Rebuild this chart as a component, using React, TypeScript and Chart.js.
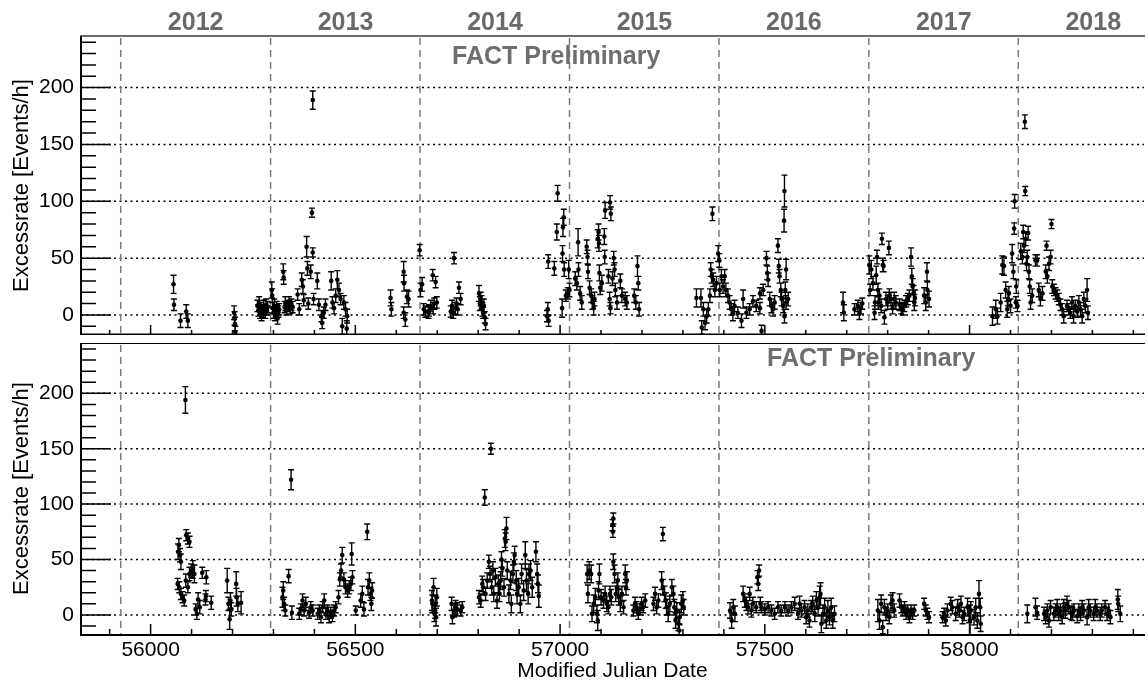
import React, { useEffect, useRef } from 'react';
import { Chart, registerables } from 'chart.js';

Chart.register(...registerables);

// ---------- axis / label data ----------
const X_MIN = 55830;
const X_MAX = 58426;
const Y_MAX = 245.4;
const Y_MIN_TOP = -17.6;
const Y_MIN_BOTTOM = -17.2;

const yearLabels = ['2012', '2013', '2014', '2015', '2016', '2017', '2018'];
const yearStartMjd = [55927, 56293, 56658, 57023, 57388, 57754, 58119];
const yearMidMjd = [56110, 56476, 56841, 57206, 57571, 57937, 58302];
const xTickValues = [56000, 56500, 57000, 57500, 58000];
const yTickValues = [0, 50, 100, 150, 200];

const yTitle = 'Excessrate [Events/h]';
const xTitle = 'Modified Julian Date';
const watermark = 'FACT Preliminary';

// ---------- series: [MJD, excess rate, error] ----------
type P = [number, number, number];

const topPanelPoints: P[] = [
  [56056, 27, 8], [56057, 9, 5], [56073, -5, 6], [56087, 3, 6], [56091, -5, 6],
  [56204, 2, 6], [56205, -3, 6], [56206, -8, 6], [56207, -15, 5],
  [56261, 8, 5], [56263, 4, 5], [56265, 10, 6], [56267, 2, 5], [56269, 6, 5], [56271, -1, 4], [56274, 3, 5],
  [56276, 8, 5], [56278, 5, 4], [56280, 1, 4], [56282, 9, 5], [56284, 4, 4], [56286, 7, 5],
  [56296, 22, 7], [56297, 17, 6], [56298, 6, 5], [56300, 2, 5], [56302, 8, 6], [56304, 0, 5], [56306, 4, 5],
  [56308, 7, 5], [56310, -3, 5], [56312, 3, 5], [56314, 5, 5],
  [56324, 38, 7], [56325, 33, 6], [56327, 7, 5], [56329, 10, 6], [56332, 5, 5], [56335, 8, 5], [56338, 11, 5],
  [56341, 6, 5], [56344, 9, 5], [56347, 7, 5],
  [56359, 18, 5], [56363, 5, 5], [56369, 31, 6], [56372, 25, 6], [56374, 13, 5], [56381, 60, 9], [56383, 41, 6],
  [56385, 10, 5], [56391, 38, 6], [56394, 90, 4], [56396, 189, 8], [56396, 55, 4], [56398, 14, 5], [56407, 30, 7],
  [56411, 9, 5], [56417, -1, 5], [56419, -7, 5], [56423, 2, 5], [56427, 9, 5], [56441, 30, 8], [56444, 11, 5],
  [56448, 6, 5], [56452, 17, 6], [56456, 31, 8], [56460, 22, 6], [56464, 14, 5], [56468, -10, 7], [56472, 11, 6],
  [56476, 5, 6], [56479, -12, 7], [56480, -1, 6],
  [56586, 15, 7], [56588, 5, 6], [56618, 38, 9], [56619, 28, 7], [56618, 2, 5], [56622, -4, 6], [56626, 16, 6],
  [56630, 14, 7], [56657, 57, 5], [56659, 22, 6], [56663, 27, 6], [56667, 5, 5], [56671, 3, 5], [56679, 2, 5],
  [56680, 4, 5], [56684, 8, 5], [56689, 35, 5], [56690, 6, 5], [56693, 10, 5], [56696, 29, 5], [56699, 11, 5],
  [56733, 3, 5], [56736, 8, 5], [56739, 1, 4], [56741, 50, 5], [56744, 6, 5], [56747, 10, 5], [56750, 5, 5],
  [56753, 24, 5], [56757, 14, 5],
  [56802, 19, 7], [56804, 10, 6], [56806, 14, 6], [56808, 11, 6], [56810, 5, 6], [56812, 2, 5], [56814, 8, 6],
  [56816, -2, 5], [56818, -8, 5],
  [56968, -1, 5], [56970, 5, 6], [56972, -5, 5], [56971, 47, 6], [56986, 41, 6], [56992, 73, 7], [56994, 107, 7],
  [57005, 6, 8], [57006, 54, 7], [57007, 77, 8], [57009, 86, 7], [57010, 40, 6], [57014, 17, 5], [57019, 19, 5],
  [57021, 40, 8], [57023, 22, 6],
  [57037, 32, 6], [57041, 28, 6], [57044, 64, 12], [57045, 40, 6], [57049, 19, 6], [57053, 11, 6],
  [57065, 60, 6], [57067, 51, 6], [57068, 38, 6], [57072, 24, 6], [57076, 17, 6], [57079, 11, 6], [57082, 6, 6],
  [57084, 14, 6], [57092, 67, 8], [57094, 73, 7], [57095, 63, 7], [57096, 37, 7], [57098, 24, 6], [57102, 28, 7],
  [57108, 69, 7], [57109, 51, 6], [57110, 92, 7], [57122, 99, 6], [57124, 89, 6], [57118, 34, 6], [57121, 14, 6],
  [57123, 6, 5], [57128, 32, 6], [57131, 50, 6], [57133, 40, 6], [57135, 22, 6], [57139, 11, 6],
  [57147, 30, 6], [57151, 17, 6], [57159, 14, 6], [57163, 11, 6],
  [57181, 17, 6], [57185, 11, 6], [57189, 43, 9], [57191, 28, 6], [57193, 5, 6],
  [57333, 15, 8], [57344, 15, 8], [57346, -11, 6], [57350, 5, 6], [57354, -7, 6], [57358, -1, 6], [57362, 5, 6],
  [57366, 17, 6], [57368, 40, 6], [57370, 34, 6], [57372, 89, 6], [57374, 31, 6], [57378, 22, 6], [57382, 28, 6],
  [57386, 54, 7], [57389, 48, 6], [57390, 22, 6], [57394, 34, 6], [57398, 25, 6], [57402, 34, 6], [57405, 22, 6],
  [57410, 17, 6], [57414, 11, 6],
  [57418, 5, 5], [57422, 1, 6], [57426, 8, 5], [57434, 2, 5], [57443, -5, 6], [57447, 14, 8], [57455, 2, 5],
  [57463, 5, 5], [57471, 12, 5], [57479, 8, 5], [57488, 6, 5], [57492, -14, 5],
  [57488, 19, 5], [57496, 22, 5], [57504, 50, 6], [57506, 37, 6], [57508, 31, 6], [57512, 14, 6], [57516, 8, 6],
  [57520, 5, 6], [57524, 11, 6],
  [57532, 61, 6], [57534, 43, 6], [57536, 34, 6], [57539, 22, 6], [57541, 14, 6], [57545, 8, 6], [57547, 83, 10],
  [57548, 109, 14], [57550, 22, 7], [57552, 40, 9], [57552, 11, 6], [57548, -1, 6], [57557, 14, 6],
  [57691, 11, 9], [57693, 2, 7],
  [57719, 5, 5], [57727, 8, 5], [57731, 1, 5], [57735, 6, 5], [57738, 10, 5],
  [57755, 44, 8], [57757, 22, 5], [57760, 40, 8], [57764, 28, 6], [57768, 2, 6], [57769, 11, 6], [57772, 35, 8],
  [57774, 51, 6], [57776, 22, 6], [57777, 11, 6], [57780, 17, 6], [57784, 8, 6], [57786, 67, 5], [57788, 44, 6],
  [57790, 43, 5], [57792, -2, 6], [57796, 14, 6], [57800, 11, 6], [57803, 59, 6], [57804, 17, 6], [57808, 14, 6],
  [57812, 6, 5], [57816, 14, 6], [57820, 11, 6],
  [57829, 9, 5], [57833, 6, 5], [57837, 5, 5], [57841, 8, 5], [57845, 12, 5], [57849, 14, 5], [57853, 17, 5],
  [57857, 51, 8], [57859, 34, 7], [57861, 25, 7], [57863, 19, 7], [57865, 11, 7], [57867, 15, 7],
  [57889, 17, 7], [57893, 11, 7], [57896, 38, 8], [57897, 22, 7], [57901, 14, 7],
  [58056, -1, 8], [58064, 5, 8], [58068, -1, 7], [58076, 11, 8], [58080, 44, 8], [58084, 43, 8], [58088, 22, 7],
  [58092, 5, 7], [58094, 14, 6], [58096, 19, 6], [58100, 8, 6], [58104, 54, 8], [58107, 38, 6], [58109, 76, 5],
  [58110, 100, 6], [58113, 11, 5], [58114, 25, 6], [58117, 8, 5],
  [58125, 56, 7], [58129, 51, 6], [58131, 73, 6], [58133, 61, 6], [58135, 170, 6], [58136, 109, 4], [58137, 67, 6],
  [58139, 45, 6], [58141, 51, 6], [58143, 72, 6], [58145, 38, 6], [58147, 25, 6], [58149, 11, 6], [58153, 17, 6],
  [58161, 48, 5], [58165, 48, 5], [58169, 22, 6], [58173, 14, 6], [58178, 19, 6],
  [58186, 38, 6], [58188, 61, 4], [58190, 34, 6], [58194, 45, 6], [58198, 51, 6], [58200, 80, 4], [58202, 25, 6],
  [58206, 22, 5], [58210, 19, 5], [58214, 17, 5], [58218, 14, 5], [58222, 9, 5], [58226, 5, 5],
  [58230, -1, 6], [58238, 8, 5], [58242, 5, 5], [58246, 2, 5], [58250, 11, 5], [58254, -1, 6], [58258, 8, 5],
  [58263, 3, 5], [58267, 11, 6], [58271, 5, 6], [58275, -1, 6], [58279, 14, 6], [58283, 8, 6], [58287, 22, 10],
  [58289, 2, 6],
];

const bottomPanelPoints: P[] = [
  [56085, 194, 12],
  [56067, 57, 7], [56069, 63, 6], [56072, 54, 6], [56074, 48, 7], [56066, 28, 5], [56070, 25, 5], [56074, 19, 5],
  [56078, 16, 5], [56082, 13, 5], [56086, 31, 6], [56087, 72, 5], [56091, 69, 5], [56095, 66, 5], [56091, 25, 5],
  [56095, 37, 6], [56099, 40, 6], [56103, 41, 8], [56107, 37, 8],
  [56110, 5, 5], [56113, 1, 5], [56116, 14, 6], [56120, 7, 6],
  [56126, 38, 5], [56136, 34, 6], [56134, 14, 5], [56135, 17, 5], [56148, 11, 6],
  [56187, 31, 11], [56190, 10, 6], [56193, -4, 9], [56195, 13, 7], [56197, 5, 6], [56209, 28, 11], [56210, 16, 8],
  [56213, 10, 7], [56221, 11, 10],
  [56322, 16, 9], [56324, 22, 8], [56326, 10, 6], [56329, 4, 5], [56337, 35, 6], [56345, 2, 6], [56343, 122, 9],
  [56363, 1, 5], [56367, 5, 5], [56371, 13, 6], [56375, 4, 5], [56379, 10, 6], [56387, 2, 5], [56391, 7, 5],
  [56396, 4, 5],
  [56408, 1, 5], [56412, 4, 5], [56416, -2, 5], [56420, 7, 5], [56424, 13, 6], [56428, 1, 5], [56432, 4, 5],
  [56436, -2, 5], [56440, 2, 5], [56444, -1, 5], [56448, 4, 5], [56452, 7, 5],
  [56459, 16, 6], [56462, 32, 6], [56465, 40, 6], [56468, 54, 7], [56472, 32, 6], [56476, 25, 6], [56481, 22, 6],
  [56485, 25, 6], [56489, 28, 6], [56491, 55, 10], [56493, 34, 6],
  [56501, 4, 4], [56513, 13, 6], [56517, 19, 7], [56521, 5, 6], [56529, 75, 7], [56531, 25, 7], [56534, 31, 7],
  [56537, 19, 6], [56539, 10, 6], [56541, 22, 7],
  [56687, 13, 9], [56688, 10, 8], [56691, 25, 8], [56693, 1, 7], [56695, 10, 8], [56695, 4, 7], [56697, -2, 8],
  [56699, 16, 8],
  [56735, 10, 6], [56737, -2, 6], [56741, 4, 6], [56745, 7, 6], [56749, 5, 6], [56757, 4, 5], [56761, 7, 5],
  [56802, 16, 6], [56806, 13, 6], [56810, 28, 7], [56812, 25, 7], [56816, 106, 7], [56818, 19, 6], [56822, 31, 7],
  [56826, 48, 6], [56829, 37, 7], [56831, 150, 5], [56833, 25, 7], [56836, 40, 8], [56838, 19, 7], [56842, 34, 8],
  [56846, 13, 7], [56849, 28, 8], [56852, 19, 7], [56855, 31, 8], [56857, 50, 7], [56859, 42, 7], [56863, 25, 8],
  [56865, 69, 8], [56867, 66, 8], [56869, 78, 10], [56871, 40, 8], [56875, 19, 8], [56879, 31, 8], [56881, 10, 8],
  [56885, 37, 8], [56887, 48, 8], [56889, 54, 8], [56893, 31, 9], [56895, 19, 9], [56899, 25, 8], [56903, 10, 8],
  [56906, 37, 9], [56911, 22, 9], [56915, 54, 12], [56918, 31, 10], [56922, 19, 9], [56924, 37, 9], [56928, 40, 9],
  [56932, 25, 9], [56941, 57, 9], [56944, 37, 9], [56946, 28, 8], [56948, 17, 10],
  [57066, 37, 8], [57068, 19, 8], [57071, 40, 8], [57076, 37, 8], [57078, 1, 7], [57082, 10, 8], [57086, 16, 8],
  [57090, 1, 8], [57092, -5, 9], [57094, 22, 8], [57096, 37, 9], [57100, 16, 7], [57106, 13, 7], [57110, 19, 7],
  [57114, 10, 7], [57118, 7, 6], [57122, 19, 7], [57125, 16, 7], [57128, 81, 5], [57129, 75, 5], [57130, 87, 5],
  [57130, 48, 7], [57133, 37, 8], [57136, 19, 7], [57139, 25, 7], [57141, 31, 7], [57143, 16, 7], [57147, 10, 7],
  [57151, 19, 7], [57155, 7, 6], [57159, 37, 8], [57161, 25, 7], [57163, 31, 8],
  [57179, 4, 5], [57183, 10, 6], [57187, 7, 5], [57191, 1, 5], [57195, 5, 5], [57199, 10, 6], [57203, 7, 5],
  [57208, 13, 6],
  [57228, 10, 6], [57232, 19, 6], [57236, 7, 6], [57240, 13, 6],
  [57251, 73, 6], [57248, 31, 8], [57251, 25, 7], [57255, 19, 7], [57258, 13, 7], [57260, 7, 7], [57264, 1, 7],
  [57268, 10, 7], [57273, 25, 7], [57277, 19, 7], [57279, 7, 7], [57282, -5, 7], [57285, 4, 7], [57289, -8, 6],
  [57291, -14, 6], [57292, -2, 7], [57296, 10, 8], [57300, 13, 8], [57302, 7, 7],
  [57415, 4, 7], [57419, -5, 7], [57423, 7, 7], [57427, 1, 7], [57447, 19, 7], [57451, 13, 6], [57455, 10, 6],
  [57459, 7, 6], [57463, 19, 6], [57467, 4, 6], [57471, 10, 6], [57479, 7, 5], [57482, 34, 6], [57484, 28, 6],
  [57486, 40, 5], [57489, 10, 6], [57492, 7, 5], [57500, 5, 5], [57508, 7, 5], [57516, 4, 5], [57524, 1, 5],
  [57532, 7, 5], [57540, 4, 5], [57549, 7, 5],
  [57557, 4, 5], [57565, 7, 5], [57573, 10, 6], [57581, 1, 5], [57585, 10, 7], [57589, 4, 6], [57597, 7, 6],
  [57601, -2, 6], [57605, 4, 6], [57609, -5, 6], [57613, 7, 6], [57617, 10, 7], [57622, 1, 7], [57626, 13, 8],
  [57630, 7, 8], [57634, 16, 10], [57636, 19, 10], [57638, -8, 8], [57642, 1, 8], [57646, 7, 8], [57650, -5, 7],
  [57654, 4, 9], [57658, -2, 7], [57662, 7, 8], [57666, -5, 7], [57670, 1, 7],
  [57776, 4, 10], [57780, -5, 8], [57784, 10, 8], [57788, -11, 6], [57792, 7, 7], [57796, 1, 6], [57800, 4, 6],
  [57804, -2, 6], [57808, 10, 8], [57812, 13, 7], [57816, 4, 6], [57829, 13, 6], [57833, 7, 5], [57837, 4, 5],
  [57841, 7, 5], [57845, 1, 5], [57849, 4, 5], [57853, -2, 5], [57857, 4, 5], [57861, 1, 5], [57865, 4, 5],
  [57889, 10, 5], [57893, 4, 5], [57897, 1, 5], [57901, -2, 5],
  [57934, -2, 5], [57938, 1, 5], [57942, -5, 5], [57946, 4, 6], [57954, 10, 6], [57958, 7, 6], [57966, 1, 6],
  [57971, 7, 7], [57975, 4, 6], [57979, 10, 7], [57983, -2, 6], [57987, 1, 6], [57995, 7, 8], [57999, 1, 8],
  [58001, -5, 14], [58003, 4, 8], [58011, -2, 7], [58015, 7, 8], [58019, -5, 7], [58023, 19, 12], [58026, 7, 8],
  [58027, -8, 7],
  [58141, 1, 8], [58161, 7, 8], [58165, 2, 6], [58182, 1, 6], [58186, -2, 6], [58190, 4, 6], [58194, -5, 6],
  [58198, 7, 6], [58206, 1, 6], [58210, 4, 6], [58214, 7, 7], [58218, 1, 6], [58222, 4, 6], [58226, -2, 6],
  [58230, 7, 7], [58234, 4, 7], [58238, 10, 7], [58242, 7, 6], [58247, 2, 6], [58251, 1, 6], [58255, 4, 6],
  [58263, -1, 6], [58267, 4, 6], [58271, 1, 6], [58275, 7, 6], [58279, 4, 6], [58287, -2, 7], [58291, 7, 7],
  [58295, 4, 6], [58303, 1, 6], [58307, 7, 7], [58311, 4, 6], [58319, 1, 6], [58323, 4, 6], [58331, 7, 6],
  [58336, 1, 6], [58340, 4, 6], [58344, -2, 6], [58362, 14, 9], [58363, 10, 7], [58368, 1, 7],
];

// ---------- drawing helpers ----------
const FONT = '"Liberation Sans", Arial, Helvetica, sans-serif';

function makeDecoPlugin(isTop: boolean) {
  return {
    id: 'panelDeco' + (isTop ? 'Top' : 'Bottom'),
    beforeDatasetsDraw(chart: any) {
      const { ctx, chartArea: a, scales } = chart;
      const xs = scales.x;
      const ys = scales.y;
      ctx.save();
      ctx.beginPath();
      ctx.rect(a.left, a.top, a.right - a.left, a.bottom - a.top);
      ctx.clip();

      // dotted horizontal grid
      ctx.strokeStyle = '#000';
      ctx.lineWidth = 1.5;
      ctx.setLineDash([2, 3.5]);
      ctx.beginPath();
      for (const v of yTickValues) {
        const y = ys.getPixelForValue(v);
        ctx.moveTo(a.left, y);
        ctx.lineTo(a.right, y);
      }
      ctx.stroke();

      // dashed year boundaries
      ctx.strokeStyle = '#7a7a7a';
      ctx.lineWidth = 1.5;
      ctx.setLineDash([7, 5]);
      ctx.beginPath();
      for (const v of yearStartMjd) {
        const x = xs.getPixelForValue(v);
        ctx.moveTo(x, a.top + 2);
        ctx.lineTo(x, a.bottom);
      }
      ctx.stroke();

      // ticks (inside)
      ctx.setLineDash([]);
      ctx.strokeStyle = '#000';
      ctx.lineWidth = 1.5;
      ctx.beginPath();
      for (let v = -10; v <= 240; v += 10) {
        const y = ys.getPixelForValue(v);
        const len = v % 50 === 0 ? 30 : 15;
        ctx.moveTo(a.left, y);
        ctx.lineTo(a.left + len, y);
      }
      for (let v = 55900; v <= 58400; v += 100) {
        const x = xs.getPixelForValue(v);
        const len = v % 500 === 0 ? 10 : 5;
        ctx.moveTo(x, a.bottom);
        ctx.lineTo(x, a.bottom - len);
      }
      ctx.stroke();

      // error bars
      const data = chart.data.datasets[0].data as any[];
      ctx.lineWidth = 1.4;
      ctx.beginPath();
      for (const d of data) {
        const x = xs.getPixelForValue(d.x);
        const y1 = ys.getPixelForValue(d.y - d.err);
        const y2 = ys.getPixelForValue(d.y + d.err);
        ctx.moveTo(x, y1);
        ctx.lineTo(x, y2);
        ctx.moveTo(x - 3, y1);
        ctx.lineTo(x + 3, y1);
        ctx.moveTo(x - 3, y2);
        ctx.lineTo(x + 3, y2);
      }
      ctx.stroke();
      ctx.restore();
    },
    afterDatasetsDraw(chart: any) {
      const { ctx, chartArea: a } = chart;
      ctx.save();
      ctx.setLineDash([]);
      ctx.strokeStyle = '#000';
      ctx.lineWidth = 2;
      ctx.beginPath();
      ctx.moveTo(a.left, a.top);
      ctx.lineTo(a.left, a.bottom);
      ctx.stroke();
      if (isTop) {
        ctx.strokeStyle = '#3a3a3a';
        ctx.lineWidth = 1.6;
        ctx.beginPath();
        ctx.moveTo(a.left - 1, a.top);
        ctx.lineTo(a.right + 1, a.top);
        ctx.stroke();
        ctx.strokeStyle = '#000';
        ctx.lineWidth = 1.6;
        ctx.beginPath();
        ctx.moveTo(a.left - 1, a.bottom - 0.8);
        ctx.lineTo(a.right + 1, a.bottom - 0.8);
        ctx.stroke();
      } else {
        ctx.lineWidth = 1;
        ctx.beginPath();
        ctx.moveTo(a.left - 1, a.top + 0.5);
        ctx.lineTo(a.right + 1, a.top + 0.5);
        ctx.stroke();
        ctx.lineWidth = 2.2;
        ctx.beginPath();
        ctx.moveTo(a.left - 1, a.bottom + 1);
        ctx.lineTo(a.right + 1, a.bottom + 1);
        ctx.stroke();
      }
      ctx.restore();
    },
  };
}

function toDataset(points: P[]) {
  return {
    data: points.map(([x, y, err]) => ({ x, y, err })),
    pointRadius: 2.3,
    pointBackgroundColor: '#000',
    pointBorderColor: '#000',
    pointBorderWidth: 0,
    showLine: false,
  };
}

function noPadding(s: any) {
  s.paddingTop = 0;
  s.paddingBottom = 0;
  s.paddingLeft = 0;
  s.paddingRight = 0;
}

function yScale(min: number) {
  return {
    type: 'linear',
    position: 'left',
    min,
    max: Y_MAX,
    afterBuildTicks: (s: any) => {
      s.ticks = yTickValues.map((v) => ({ value: v }));
    },
    afterFit: (s: any) => {
      s.width = 81;
      noPadding(s);
    },
    grid: { display: false, drawTicks: false },
    border: { display: false },
    ticks: {
      color: '#000',
      padding: 7,
      font: { family: FONT, size: 21 },
      callback: (v: any) => String(v),
    },
    title: {
      display: true,
      text: yTitle,
      color: '#000',
      font: { family: FONT, size: 22, lineHeight: 1 },
      padding: { top: 11, bottom: 0 },
    },
  };
}

function TopPanel() {
  const ref = useRef<HTMLCanvasElement>(null);
  useEffect(() => {
    const chart = new Chart(ref.current as HTMLCanvasElement, {
      type: 'scatter',
      data: { datasets: [toDataset(topPanelPoints) as any] },
      options: {
        animation: false,
        responsive: false,
        events: [],
        layout: { padding: { left: 0, right: 1, top: 0, bottom: 0 } },
        plugins: { legend: { display: false }, tooltip: { enabled: false } },
        scales: {
          x: { type: 'linear', display: false, min: X_MIN, max: X_MAX },
          xTop: {
            type: 'linear',
            position: 'top',
            min: X_MIN,
            max: X_MAX,
            afterBuildTicks: (s: any) => {
              s.ticks = yearMidMjd.map((v) => ({ value: v }));
            },
            afterFit: (s: any) => {
              s.height = 36;
              noPadding(s);
            },
            grid: { display: false, drawTicks: false },
            border: { display: false },
            ticks: {
              autoSkip: false,
              maxRotation: 0,
              padding: 0,
              color: '#6a6a6a',
              font: { family: FONT, size: 25, weight: 'bold', lineHeight: 1 },
              callback: (_v: any, i: number) => yearLabels[i],
            },
          },
          y: yScale(Y_MIN_TOP) as any,
        },
      } as any,
      plugins: [makeDecoPlugin(true)],
    });
    return () => chart.destroy();
  }, []);
  return (
    <canvas
      ref={ref}
      width={1148}
      height={339}
      style={{ position: 'absolute', left: 0, top: 0, width: 1148, height: 339 }}
    />
  );
}

function BottomPanel() {
  const ref = useRef<HTMLCanvasElement>(null);
  useEffect(() => {
    const chart = new Chart(ref.current as HTMLCanvasElement, {
      type: 'scatter',
      data: { datasets: [toDataset(bottomPanelPoints) as any] },
      options: {
        animation: false,
        responsive: false,
        events: [],
        layout: { padding: { left: 0, right: 1, top: 0, bottom: 0 } },
        plugins: { legend: { display: false }, tooltip: { enabled: false } },
        scales: {
          x: {
            type: 'linear',
            position: 'bottom',
            min: X_MIN,
            max: X_MAX,
            afterBuildTicks: (s: any) => {
              s.ticks = xTickValues.map((v) => ({ value: v }));
            },
            afterFit: (s: any) => {
              s.height = 49;
              noPadding(s);
            },
            grid: { display: false, drawTicks: false },
            border: { display: false },
            ticks: {
              autoSkip: false,
              maxRotation: 0,
              padding: 4,
              color: '#000',
              font: { family: FONT, size: 21 },
              callback: (v: any) => String(v),
            },
            title: {
              display: true,
              text: xTitle,
              color: '#000',
              font: { family: FONT, size: 21, lineHeight: 1 },
              padding: { top: 0, bottom: 1 },
            },
          },
          y: yScale(Y_MIN_BOTTOM) as any,
        },
      } as any,
      plugins: [makeDecoPlugin(false)],
    });
    return () => chart.destroy();
  }, []);
  return (
    <canvas
      ref={ref}
      width={1148}
      height={344}
      style={{ position: 'absolute', left: 0, top: 339, width: 1148, height: 344 }}
    />
  );
}

const markStyle: React.CSSProperties = {
  position: 'absolute',
  fontFamily: FONT,
  fontWeight: 'bold',
  fontSize: 25,
  lineHeight: '25px',
  color: '#6e6e6e',
  whiteSpace: 'nowrap',
};

export default function App() {
  return (
    <div
      style={{
        position: 'absolute',
        left: 0,
        top: 0,
        width: 1148,
        height: 683,
        overflow: 'hidden',
        background: '#fff',
      }}
    >
      <TopPanel />
      <BottomPanel />
      <div style={{ ...markStyle, left: 452, top: 43 }}>{watermark}</div>
      <div style={{ ...markStyle, left: 767, top: 345 }}>{watermark}</div>
    </div>
  );
}
